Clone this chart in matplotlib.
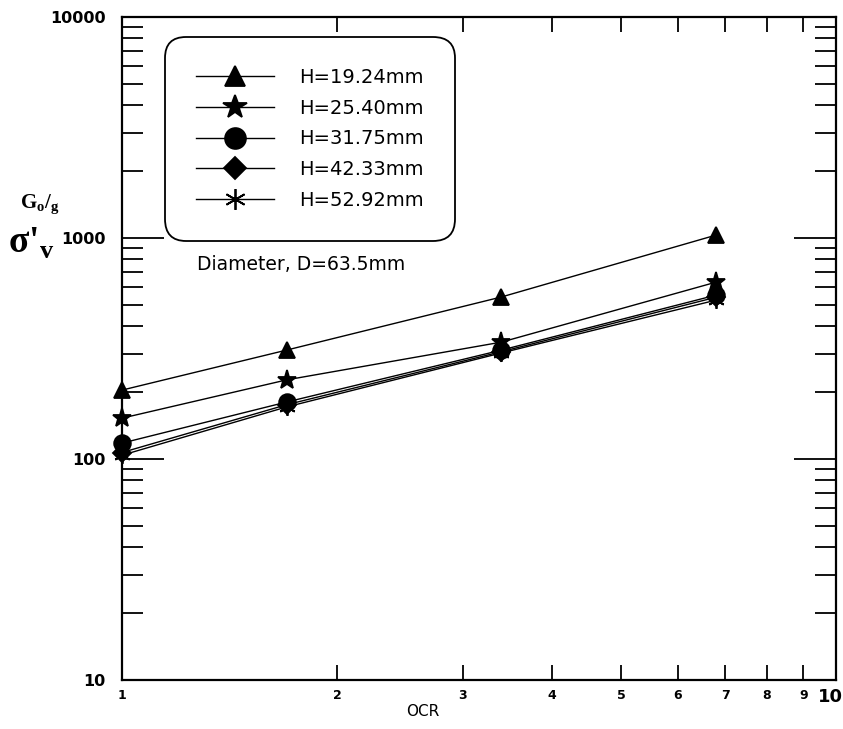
import matplotlib
matplotlib.use("Agg")
import matplotlib.pyplot as plt
import matplotlib.transforms as mtrans
from matplotlib.ticker import FixedLocator, NullFormatter, FixedFormatter

ocr = [1.0, 1.7, 3.4, 6.8]
labels = ["H=19.24mm", "H=25.40mm", "H=31.75mm", "H=42.33mm", "H=52.92mm"]
h1924 = [205, 311, 541, 1032]
h2540 = [153, 228, 338, 632]
h3175 = [118, 181, 311, 552]
h4233 = [107, 176, 306, 540]
h5292 = [104, 172, 302, 524]
series = [h1924, h2540, h3175, h4233, h5292]
markers = ["^", "*", "o", "D", (6, 2, 0)]
msizes = [11, 14, 12, 9, 12]

xticks = [1, 2, 3, 4, 5, 6, 7, 8, 9, 10]
yticks = [10, 100, 1000, 10000]

fig = plt.figure(figsize=(8.43, 7.29), dpi=100)
ax = fig.add_axes([122/843, 1-680/729, 714/843, 663/729])
ax.set_xscale("log")
ax.set_yscale("log")
ax.set_xlim(1, 10)
ax.set_ylim(10, 10000)

handles = []
for s, m, ms, lab in zip(series, markers, msizes, labels):
    ln, = ax.plot(ocr, s, color="black", lw=1.0, marker=m, markersize=ms,
                  markerfacecolor="black", markeredgecolor="black",
                  markeredgewidth=1.3, label=lab, clip_on=False)
    handles.append(ln)

for sp in ax.spines.values():
    sp.set_linewidth(1.6)

ax.xaxis.set_major_locator(FixedLocator([1, 10]))
ax.xaxis.set_minor_locator(FixedLocator([2, 3, 4, 5, 6, 7, 8, 9]))
ax.xaxis.set_major_formatter(NullFormatter())
ax.xaxis.set_minor_formatter(NullFormatter())
ax.yaxis.set_major_locator(FixedLocator(yticks))
ax.yaxis.set_major_formatter(FixedFormatter([str(v) for v in yticks]))
ax.yaxis.set_minor_locator(FixedLocator([m * 10**e for e in range(1, 4) for m in range(2, 10)]))
ax.tick_params(axis="y", which="major", direction="in", length=30, width=1.3,
               left=True, right=True, pad=12, labelsize=11.5)
ax.tick_params(axis="y", which="minor", direction="in", length=15, width=1.3,
               left=True, right=True)
ax.tick_params(axis="x", which="major", direction="in", length=0, top=True, bottom=True)
ax.tick_params(axis="x", which="minor", direction="in", length=11, width=1.3,
               top=True, bottom=True)
for t in ax.get_yticklabels():
    t.set_fontfamily("DejaVu Sans")
    t.set_fontweight("bold")

below = ax.get_xaxis_transform() + mtrans.ScaledTranslation(0, -0.09, fig.dpi_scale_trans)
for xv in xticks:
    if xv == 10:
        ax.text(xv, 0, str(xv), transform=ax.get_xaxis_transform()
                + mtrans.ScaledTranslation(-0.06, -0.08, fig.dpi_scale_trans),
                ha="center", va="top", fontsize=13, fontweight="bold",
                family="DejaVu Sans")
    else:
        ax.text(xv, 0, str(xv), transform=below, ha="center", va="top",
                fontsize=9, fontweight="bold", family="DejaVu Sans")

fig.text(423/843, 1-711/729, "OCR", family="DejaVu Sans", fontsize=11,
         ha="center", va="center")

leg = ax.legend(handles=handles, loc="upper left", bbox_to_anchor=(0.060, 0.970),
                prop={"family": "DejaVu Sans", "size": 14},
                handlelength=4.0, handletextpad=1.3, labelspacing=0.6,
                borderpad=1.6, borderaxespad=0, fancybox=True, framealpha=1,
                edgecolor="black", markerscale=1.25)
leg.get_frame().set_linewidth(1.3)
leg.get_frame().set_boxstyle("round,pad=0,rounding_size=1.1")

ax.text(0.105, 0.626, "Diameter, D=63.5mm", transform=ax.transAxes,
        family="DejaVu Sans", fontsize=13.5, ha="left", va="center")

fig.text(20/843, 1-205/729, r"G$_\mathregular{o}$/$_\mathregular{g}$",
         family="Liberation Serif", fontsize=15, fontweight="bold", ha="left", va="center")
fig.text(8/843, 1-243/729, r"σ'$_\mathregular{v}$",
         family="Liberation Serif", fontsize=27, fontweight="bold", ha="left", va="center")

fig.savefig("out.png", dpi=100)
